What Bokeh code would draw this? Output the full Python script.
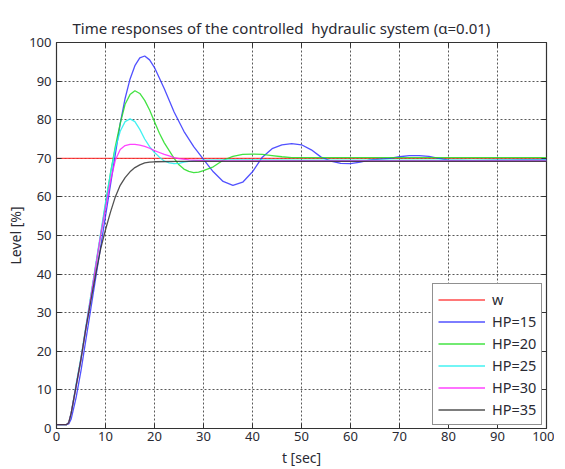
from bokeh.plotting import figure
from bokeh.models import LinearAxis, FixedTicker, Legend, LegendItem, Range1d
from bokeh.embed import file_html
from bokeh.resources import INLINE

# ---- data ----
t_w = [0, 100]
y_w = [70, 70]

t_15 = [0, 2, 2.5, 3, 4, 5, 6, 7, 8, 9, 10, 11, 12, 13, 14, 15, 16, 17, 18, 19, 20,
        22, 24, 26, 28, 30, 32, 34, 36, 38, 40, 42, 44, 46, 48, 50, 52, 54, 56, 58,
        60, 62, 64, 66, 68, 70, 72, 74, 76, 78, 80, 85, 90, 95, 100]
y_15 = [1, 1, 1.2, 2.5, 8, 15, 23, 31, 39, 47, 55, 63, 71, 79, 85.5, 90.5, 94, 96, 96.5, 95.5, 93.5,
        88, 82, 77, 73, 69.7, 66.5, 64, 63, 63.8, 66.5, 70.3, 72.5, 73.5, 73.8, 73.5, 72.2, 70.3, 69.3, 68.7,
        68.6, 69, 69.6, 69.8, 70, 70.4, 70.7, 70.7, 70.5, 70, 69.5, 69.4, 69.5, 69.6, 69.6]

t_20 = [0, 2, 2.5, 3, 4, 5, 6, 7, 8, 9, 10, 11, 12, 13, 14, 15, 16, 17, 18, 19, 20,
        21, 22, 23, 24, 25, 26, 27, 28, 29, 30, 32, 34, 36, 38, 40, 42, 44, 46, 48, 50, 60, 70, 80, 90, 100]
y_20 = [1, 1, 1.5, 4, 11, 18, 26, 34, 42, 50, 58, 66, 73, 79, 84, 86.5, 87.5, 86.8, 85, 82.5, 79.5,
        76.5, 74, 72, 70, 68.3, 67.2, 66.6, 66.3, 66.4, 66.8, 67.8, 69.5, 70.5, 71, 71.1, 71, 70.7, 70.4, 70.2, 70.2, 70.2, 70.2, 70.2, 70.2, 70.2]

t_25 = [0, 2, 2.5, 3, 4, 5, 6, 7, 8, 9, 10, 11, 12, 13, 14, 15, 16, 17, 18, 19, 20,
        21, 22, 23, 24, 25, 26, 28, 30, 35, 40, 50, 60, 70, 80, 90, 100]
y_25 = [1, 1, 1.5, 4, 11.5, 18.5, 26.5, 34.5, 42.5, 50.5, 58.5, 66, 72.5, 77, 79.5, 80.2, 79.5, 77.5, 75, 73, 71.5,
        70.3, 69.3, 68.8, 68.6, 68.7, 69, 69.4, 69.5, 69.6, 69.6, 69.5, 69.5, 69.5, 69.5, 69.5, 69.5]

t_30 = [0, 2, 2.5, 3, 4, 5, 6, 7, 8, 9, 10, 11, 12, 13, 14, 15, 16, 17, 18, 19, 20,
        21, 22, 23, 24, 25, 27, 30, 40, 50, 60, 70, 80, 90, 100]
y_30 = [1, 1, 1.5, 4, 11, 18, 26, 34, 42, 50, 57, 64, 69.5, 72.3, 73.3, 73.6, 73.6, 73.4, 73.1, 72.6, 72,
        71.5, 71, 70.6, 70.2, 69.9, 69.6, 69.4, 69.3, 69.3, 69.3, 69.3, 69.3, 69.3, 69.3]

t_35 = [0, 2, 2.5, 3, 4, 5, 6, 7, 8, 9, 10, 11, 12, 13, 14, 15, 16, 17, 18, 19, 20,
        25, 30, 40, 50, 60, 70, 80, 90, 100]
y_35 = [1, 1, 1.5, 4, 11, 18, 26, 33, 40, 46.5, 51.5, 56, 60, 63, 65, 66.5, 67.6, 68.3, 68.8, 69, 69.1,
        69.2, 69.2, 69.2, 69.2, 69.2, 69.2, 69.2, 69.2, 69.2]

x_ticks = [0, 10, 20, 30, 40, 50, 60, 70, 80, 90, 100]
y_ticks = [0, 10, 20, 30, 40, 50, 60, 70, 80, 90, 100]

series = [
    ("w", t_w, y_w, "#ff2a2a"),
    ("HP=15", t_15, y_15, "#3333ff"),
    ("HP=20", t_20, y_20, "#22dd22"),
    ("HP=25", t_25, y_25, "#22eeee"),
    ("HP=30", t_30, y_30, "#ff22ff"),
    ("HP=35", t_35, y_35, "#333333"),
]

FONT = "Noto Sans"
TXT = "#2a2a33"

p = figure(frame_width=490, frame_height=386,
           min_border_left=56, min_border_right=8, min_border_top=42, min_border_bottom=35,
           x_range=Range1d(0, 100), y_range=Range1d(0, 100),
           output_backend="svg", toolbar_location=None,
           title="Time responses of the controlled \u00a0hydraulic system (\u03b1=0.01)")

p.title.align = "left"
p.title.offset = 16
p.title.text_font = FONT
p.title.text_font_size = "15px"
p.title.text_font_style = "normal"
p.title.text_color = TXT

p.outline_line_color = "#333333"
p.outline_line_width = 1.2
p.background_fill_color = "white"
p.border_fill_color = "white"

for ax, ticks in ((p.xaxis[0], x_ticks), (p.yaxis[0], y_ticks)):
    ax.ticker = FixedTicker(ticks=ticks)
    ax.major_label_text_font = FONT
    ax.major_label_text_font_size = "13px"
    ax.major_label_text_color = TXT
    ax.axis_label_text_font = FONT
    ax.axis_label_text_font_size = "14px"
    ax.axis_label_text_font_style = "normal"
    ax.axis_label_text_color = TXT
    ax.major_tick_in = 5
    ax.major_tick_out = 0
    ax.minor_tick_in = 0
    ax.minor_tick_out = 0
    ax.axis_line_color = None
    ax.major_tick_line_color = "#333333"

p.xaxis[0].axis_label = "t [sec]"
p.yaxis[0].axis_label = "Level [%]"
p.xaxis[0].major_label_standoff = 3
p.xaxis[0].axis_label_standoff = 4
p.yaxis[0].major_label_standoff = 5
p.yaxis[0].axis_label_standoff = 1

# ticks on the top and right sides (box on), no labels
for loc, tk in (("above", x_ticks), ("right", y_ticks)):
    a = LinearAxis(ticker=FixedTicker(ticks=tk))
    a.major_label_overrides = {v: "" for v in tk}
    a.major_label_text_font_size = "1px"
    a.major_label_standoff = 0
    a.major_tick_in = 5
    a.major_tick_out = 0
    a.minor_tick_in = 0
    a.minor_tick_out = 0
    a.axis_line_color = None
    a.major_tick_line_color = "#333333"
    p.add_layout(a, loc)

p.xgrid.ticker = FixedTicker(ticks=x_ticks)
p.ygrid.ticker = FixedTicker(ticks=y_ticks)
for g in (p.xgrid[0], p.ygrid[0]):
    g.grid_line_color = "#222222"
    g.grid_line_alpha = 0.75
    g.grid_line_dash = "2 2"
    g.grid_line_width = 1

items = []
for name, tx, ty, col in series:
    r = p.line(tx, ty, line_color=col, line_width=1.3, line_alpha=0.85)
    items.append(LegendItem(label=name, renderers=[r]))

leg = Legend(items=items, location=(376, 3))
leg.label_text_font = FONT
leg.label_text_font_size = "14.5px"
leg.label_text_color = TXT
leg.border_line_color = "#222222"
leg.border_line_width = 1.2
leg.background_fill_color = "white"
leg.background_fill_alpha = 1
leg.padding = 5
leg.spacing = 2
leg.label_height = 19
leg.glyph_height = 19
leg.glyph_width = 47
leg.label_standoff = 7
leg.margin = 0
p.add_layout(leg, "center")

open("out.html", "w").write(file_html(p, INLINE))
